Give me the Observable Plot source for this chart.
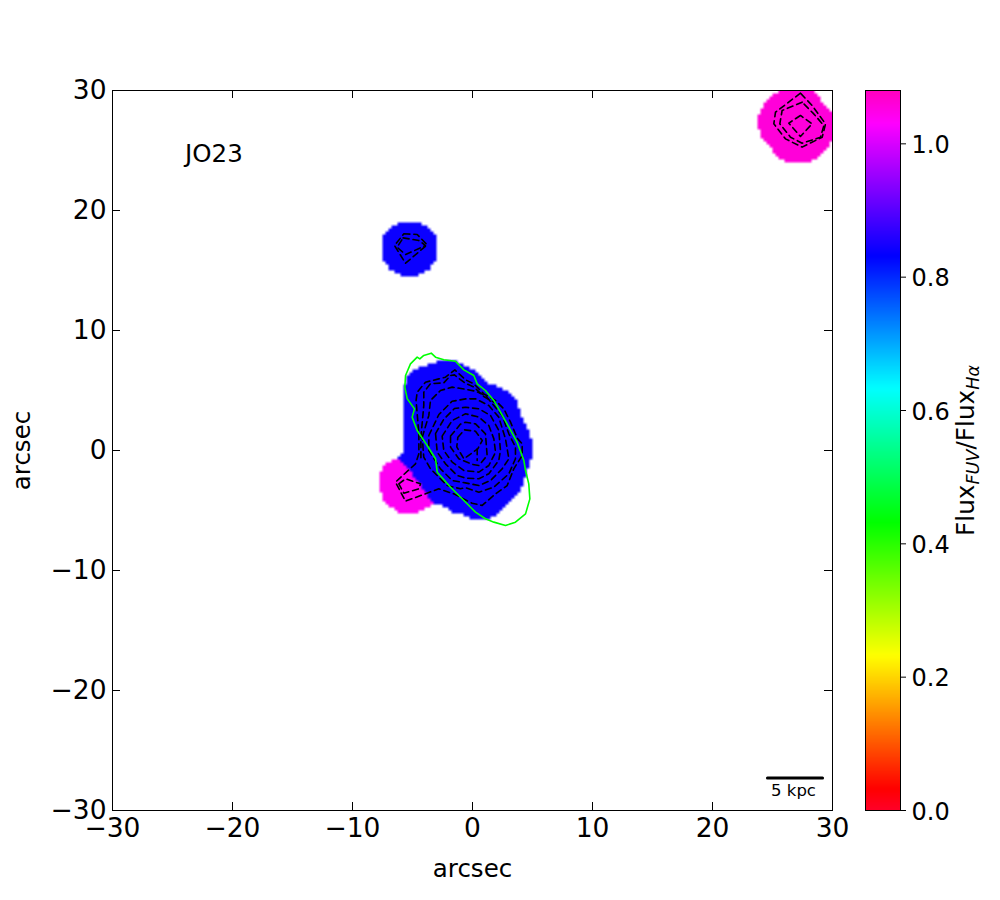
<!DOCTYPE html>
<html>
<head>
<meta charset="utf-8">
<script src="https://cdn.jsdelivr.net/npm/d3@7"></script>
<script src="https://cdn.jsdelivr.net/npm/@observablehq/plot@0.6"></script>
<style>
html,body{margin:0;padding:0;background:#fff;}
#wrap{position:relative;width:1000px;height:900px;font-family:"DejaVu Sans",sans-serif;}
#wrap svg{position:absolute;left:0;top:0;background:transparent;}
</style>
</head>
<body>
<div id="wrap"></div>
<script>
// Colour map stops (flux ratio -> colour)
const colorStops = [0, 0.0324, 0.2322, 0.432, 0.6329, 0.8316, 1.0303, 1.08];
const colorValues = ["#ff0029", "#ff0000", "#ffff00", "#00ff00", "#00ffff", "#0000ff", "#ff00ff", "#ff00bf"];
const colorTicks = [0, 0.2, 0.4, 0.6, 0.8, 1.0];
const axisTicks = [-30, -20, -10, 0, 10, 20, 30];

// Flux ratio of each region
const mainValue = 0.84, northValue = 0.84, southValue = 1.04, cornerValue = 1.06;

// Region outlines, arcsec
const mainBlob = [[-5.86,2.78],[-5.81,4.44],[-5.64,5.55],[-5.44,6.25],[-4.75,6.8],[-3.64,7.17],[-2.81,7.5],[-1.97,7.55],[-1.14,7.36],[-0.58,7.08],[0.11,6.67],[0.81,5.97],[1.36,5.55],[2.19,5.28],[3.03,4.86],[3.72,4.03],[4,2.92],[4.56,2.08],[4.89,0.97],[5.11,0.56],[5.11,-0.14],[4.69,-1.11],[4.56,-1.8],[4,-3.33],[3.17,-4.17],[2.33,-5.14],[1.36,-5.69],[-0.03,-5.69],[-0.58,-5.42],[-1.42,-5.28],[-2.25,-4.72],[-3.08,-4.44],[-3.64,-3.89],[-5.03,-1.94],[-6.42,-0.56],[-5.64,-0.28],[-5.81,0.83],[-5.72,1.67]];
const southBlob = [[-6.56,-0.69],[-7.39,-1.25],[-7.8,-2.22],[-7.8,-3.19],[-7.25,-4.44],[-6,-5.28],[-4.75,-5.22],[-3.08,-4.44],[-2.94,-1.94]];
const cornerBlob = [[25.53,29.94],[24.69,29.3],[24,28.47],[23.67,27.5],[24,26.25],[24.83,25.42],[25.11,24.78],[25.7,24.2],[26.5,23.89],[28.03,23.89],[29.14,24.72],[29.83,25.55],[30.39,26.94],[29.83,28.33],[29,29.17],[28.44,30.14],[27.05,30.42]];
const northBlob = [[-5.86,19.03],[-4.47,19.03],[-3.64,18.61],[-3.08,17.92],[-2.9,17.4],[-2.9,16.4],[-3.08,15.83],[-3.64,15],[-4.61,14.53],[-5.86,14.53],[-6.83,15],[-7.39,15.83],[-7.6,16.4],[-7.6,17.5],[-7.39,17.92],[-6.69,18.61]];

// Green outline
const greenContour = [[-5.17,7.22],[-4.61,7.78],[-4.39,7.64],[-4.06,7.92],[-3.44,8.11],[-3.08,7.78],[-2.39,7.56],[-1.42,7.44],[-0.72,6.72],[0.11,6.25],[0.39,5.56],[1.08,5],[1.78,4.17],[2.33,3.19],[3.03,1.94],[3.72,0.69],[4.28,-0.83],[4.42,-1.67],[4.69,-2.78],[4.78,-4.03],[4.42,-5.28],[3.58,-5.97],[2.75,-6.25],[1.78,-5.97],[1.08,-5.69],[0.25,-5.14],[-0.72,-4.17],[-1.83,-3.06],[-2.94,-1.81],[-3.08,-0.69],[-3.78,0.42],[-4.61,1.67],[-5.03,2.78],[-4.83,3.47],[-5.44,4.31],[-5.64,5.28],[-5.58,6.25]];

// Dashed contours
const c1 = [[-1.22,1.11],[-0.67,1.72],[0.25,1.61],[0.81,0.83],[0.44,0.14],[-0.72,-0.69],[-1.31,0.3]];
const c2 = [[-1.83,1.2],[-1,2.2],[-0.58,2.36],[0.25,2.22],[1.08,1.39],[1.22,-0.42],[0.53,-1.25],[-0.03,-1.15],[-1.14,-0.69],[-1.83,0.28]];
const c3 = [[-2.53,1.2],[-1.69,2.5],[-0.58,3.06],[0.53,2.78],[1.36,2.08],[1.78,0.97],[1.92,-0.14],[1.36,-1.25],[0.53,-1.8],[-0.72,-1.67],[-1.69,-0.97],[-2.39,0]];
const c4 = [[-3.08,1.4],[-2.4,2.6],[-1.5,3.5],[-0.58,3.6],[0.53,3.47],[1.5,2.92],[2.19,1.67],[2.33,0],[2.19,-0.83],[1.36,-1.94],[0.53,-2.36],[-0.58,-2.3],[-1.28,-2.08],[-2.25,-1.11],[-2.94,-0.14]];
const c5 = [[-3.64,1.25],[-2.8,3],[-1.7,4.1],[-0.58,4.3],[0.25,4.31],[1.36,3.75],[2.19,2.78],[2.75,0.97],[3.03,-0.69],[2.47,-1.53],[1.5,-2.5],[0.53,-2.92],[-0.58,-2.7],[-1.69,-2.5],[-2.67,-1.53],[-3.64,0]];
const c6 = [[-4.19,1.11],[-3.64,2.92],[-3.5,4.17],[-2.67,5],[-1.69,5.28],[-0.58,5.1],[0.25,4.94],[1.08,4.58],[1.78,3.75],[2.47,2.92],[3.03,1.39],[3.58,0.28],[3.58,-0.69],[3.03,-1.94],[1.78,-3.06],[0.53,-3.47],[-0.58,-3.1],[-1,-3.19],[-2.11,-2.92],[-3.5,-1.53],[-4.06,-0.56]];
const c7 = [[-4.47,1.39],[-4.47,-0.28],[-4.75,-1.11],[-6.42,-2.64],[-5.58,-4.22],[-2.81,-3.19],[-1.56,-3.61],[-0.03,-4.4],[0.81,-4.58],[1.92,-3.61],[2.89,-2.92],[3.44,-1.53],[4.14,-0.42],[4.14,0.56],[3.75,1],[3.17,2.36],[2.61,3.47],[1.92,4.17],[0.94,4.72],[0.11,5.56],[-0.58,5.89],[-1.47,6.72],[-2.25,6.11],[-2.81,5.97],[-3.92,5.69],[-4.61,4.86],[-4.7,4.17]];
const c8 = [[-6.14,-2.78],[-5.58,-2.36],[-4.33,-2.78],[-4.47,-3.19],[-5.72,-3.56]];
const cornerC1 = [[27.33,29.78],[25.25,28.19],[25.11,27.22],[26.08,25.97],[27.47,25.28],[29.14,26.11],[29.42,27.22],[28.3,28.75]];
const cornerC2 = [[27.47,29.03],[25.8,28.33],[25.61,27.22],[26.5,26.11],[27.47,25.61],[29,26.11],[29.28,27.08],[28.44,28.05]];
const cornerC3 = [[27.33,27.92],[26.36,27.28],[27.33,26.17],[28.3,27.22]];
const northC1 = [[-5.72,18.06],[-4.61,18],[-3.78,17.14],[-5.58,15.61],[-6.5,17.08]];
const northC2 = [[-5.78,17.72],[-4.47,17.5],[-3.92,17.08],[-5.58,16.33],[-6.28,16.94]];
const closedContours = [c1,c2,c3,c4,c5,c6,c7,c8,cornerC1,cornerC2,cornerC3,northC1,northC2];
const spur = [[0.39,0.14],[0.39,-0.83]];
const upperArc = [[-4.3,-0.6],[-4.3,1.1],[-4.06,3.75],[-4.06,4.86],[-3.5,5.56],[-2.39,5.64],[-1.83,6.25],[-1.5,6.3],[-0.6,5.6],[0.11,5.3],[0.94,4.5],[1.92,3.95]];
const openContours = [spur, upperArc];

const scaleBar = [[24.58,-27.3],[29.17,-27.3]];
const scaleLabel = [{x:26.75,y:-28.35,t:"5 kpc"}];
const nameLabel = [{x:-23.95,y:24.7,t:"JO23"}];

const fontFamily = '"DejaVu Sans", sans-serif';
const colorScale = {type:"linear",domain:colorStops,range:colorValues,interpolate:"rgb"};
const regions = [[mainBlob,mainValue],[northBlob,northValue],[southBlob,southValue],[cornerBlob,cornerValue]];
const regionValue = (x,y)=>{
  for (const [poly,v] of regions) if (d3.polygonContains(poly,[x,y])) return v;
  return NaN;
};
const dashed = (pts,curve)=>Plot.line(pts,{x:d=>d[0],y:d=>d[1],stroke:"#000",strokeWidth:1.6,strokeDasharray:"6,4",curve,clip:true});
const fmt = d=>String(d).replace("-","\u2212");
const tickLen = 8/12;

const main = Plot.plot({
  width:1000,height:900,
  marginLeft:112,marginRight:168,marginTop:90,marginBottom:90,
  style:{fontFamily,background:"transparent",color:"#000"},
  x:{domain:[-30,30],label:null},
  y:{domain:[-30,30],label:null},
  color:colorScale,
  marks:[
    Plot.raster({x1:-30,x2:30,y1:-30,y2:30,width:240,height:240,fill:regionValue}),
    ...closedContours.map(c=>dashed(c,"linear-closed")),
    ...openContours.map(c=>dashed(c,"linear")),
    Plot.line(greenContour,{x:d=>d[0],y:d=>d[1],stroke:"#00ff00",strokeWidth:1.6,curve:"linear-closed"}),
    Plot.line(scaleBar,{x:d=>d[0],y:d=>d[1],stroke:"#000",strokeWidth:3}),
    Plot.text(scaleLabel,{x:"x",y:"y",text:"t",fontSize:16.5,fill:"#000"}),
    Plot.text(nameLabel,{x:"x",y:"y",text:"t",fontSize:24.5,fill:"#000",textAnchor:"start"}),
    Plot.ruleX(axisTicks,{x:d=>d,y1:-30,y2:-30+tickLen,stroke:"#000"}),
    Plot.ruleX(axisTicks,{x:d=>d,y1:30,y2:30-tickLen,stroke:"#000"}),
    Plot.ruleY(axisTicks,{y:d=>d,x1:-30,x2:-30+tickLen,stroke:"#000"}),
    Plot.ruleY(axisTicks,{y:d=>d,x1:30,x2:30-tickLen,stroke:"#000"}),
    Plot.frame({stroke:"#000",strokeWidth:1}),
    Plot.axisX(axisTicks,{anchor:"bottom",tickSize:0,tickPadding:8,tickFormat:fmt,fontSize:26.5,label:"arcsec",labelAnchor:"center",labelArrow:"none",labelOffset:66}),
    Plot.axisY(axisTicks,{anchor:"left",tickSize:0,tickPadding:6,tickFormat:fmt,fontSize:26.5,label:"arcsec",labelAnchor:"center",labelArrow:"none",labelOffset:100})
  ]
});
d3.select(main).selectAll("text").filter(function(){return this.textContent==="arcsec";}).attr("font-size",24.5);

const bar = Plot.plot({
  width:1000,height:900,
  marginLeft:865,marginRight:100,marginTop:90,marginBottom:90,
  style:{fontFamily,background:"transparent",color:"#000"},
  x:{domain:[0,1],axis:null},
  y:{domain:[0,1.08],label:null},
  color:colorScale,
  marks:[
    Plot.raster({x1:0,x2:1,y1:0,y2:1.08,width:1,height:256,fill:(x,y)=>y}),
    Plot.frame({stroke:"#000",strokeWidth:1}),
    Plot.axisY(colorTicks,{anchor:"right",tickSize:5,tickPadding:6,tickFormat:d=>d.toFixed(1),fontSize:24,label:"FLUXLABEL",labelAnchor:"center",labelArrow:"none",labelOffset:73})
  ]
});

const lab = d3.select(bar).selectAll("text").filter(function(){return this.textContent==="FLUXLABEL";});
lab.text(null).attr("font-size",24.8);
lab.append("tspan").text("Flux");
lab.append("tspan").attr("font-style","italic").attr("font-size",17.5).attr("dy",5).text("FUV");
lab.append("tspan").attr("dy",-5).text("/Flux");
lab.append("tspan").attr("font-style","italic").attr("font-size",17.5).attr("dy",5).text("H\u03B1");
d3.select(bar).selectAll('g[aria-label="y-axis tick label"]').attr("transform",function(){
  return (this.getAttribute("transform")||"")+" translate(0,1.5)";
});

const wrap = document.getElementById("wrap");
wrap.append(main);
wrap.append(bar);
</script>
</body>
</html>
